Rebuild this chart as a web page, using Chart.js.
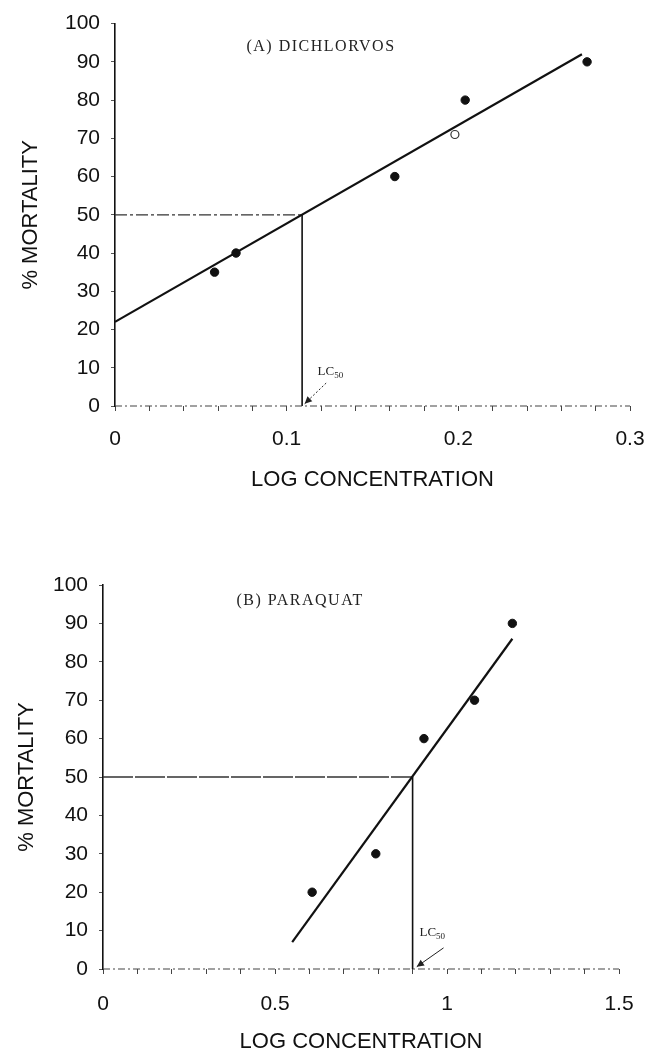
<!DOCTYPE html>
<html>
<head>
<meta charset="utf-8">
<script src="https://cdn.jsdelivr.net/npm/chart.js@4.4.1/dist/chart.umd.min.js"></script>
<style>
  html, body { margin: 0; background: #fff; overflow: hidden; }
  .panel { position: absolute; left: 0; width: 645px; }
  .panel canvas { display: block; }
  #boxA { top: 0; height: 520px; }
  #boxB { top: 520px; height: 532px; }
</style>
</head>
<body>
<div class="panel" id="boxA"><canvas id="chartA"></canvas></div>
<div class="panel" id="boxB"><canvas id="chartB"></canvas></div>
<script>
// shared y axis
var yTicks = [0, 10, 20, 30, 40, 50, 60, 70, 80, 90, 100];

// (A) dichlorvos
var xTicksA = [0, 0.1, 0.2, 0.3];
var doseA = [0.058, 0.0705, 0.163, 0.204, 0.275];
var mortA = [35, 40, 60, 80, 90];
var openDoseA = [0.198];
var openMortA = [71];
var fitXA = [0, 0.272];
var fitYA = [22, 92];
var lc50A = 0.109;

// (B) paraquat
var xTicksB = [0, 0.5, 1, 1.5];
var doseB = [0.608, 0.793, 0.933, 1.08, 1.19];
var mortB = [20, 30, 60, 70, 90];
var fitXB = [0.55, 1.19];
var fitYB = [7, 86];
var lc50B = 0.90;

function pontos(xs, ys) {
  return xs.map(function(v, i) { return { x: v, y: ys[i] }; });
}

function minorTicks(labels, passo) {
  var lista = [];
  var fim = labels[labels.length - 1];
  for (var v = labels[0]; v <= fim + 1e-9; v += passo) lista.push(Math.round(v * 1000) / 1000);
  return lista;
}

var annot = {
  id: 'annot',
  afterDatasetsDraw: function(chart, args, opts) {
    var ctx = chart.ctx, x = chart.scales.x, y = chart.scales.y;
    ctx.save();
    ctx.fillStyle = '#222';
    ctx.strokeStyle = '#222';

    // panel title
    ctx.font = '16px "Liberation Serif"';
    ctx.letterSpacing = '1.5px';
    ctx.textAlign = 'center';
    ctx.textBaseline = 'middle';
    ctx.fillText(opts.title, x.getPixelForValue(opts.titleAt[0]), y.getPixelForValue(opts.titleAt[1]));
    ctx.letterSpacing = '0px';

    // LC50 label
    var lx = x.getPixelForValue(opts.lcAt[0]);
    var ly = y.getPixelForValue(opts.lcAt[1]);
    ctx.textAlign = 'left';
    ctx.font = '13px "Liberation Serif"';
    ctx.fillText('LC', lx, ly);
    var w = ctx.measureText('LC').width;
    ctx.font = '9px "Liberation Serif"';
    ctx.fillText('50', lx + w, ly + 4);

    // arrow to LC50
    var ax = x.getPixelForValue(opts.arrowFrom[0]), ay = y.getPixelForValue(opts.arrowFrom[1]);
    var bx = x.getPixelForValue(opts.arrowTo[0]), by = y.getPixelForValue(opts.arrowTo[1]);
    ctx.lineWidth = 1;
    ctx.setLineDash(opts.dotted ? [2, 2] : []);
    ctx.beginPath();
    ctx.moveTo(ax, ay);
    ctx.lineTo(bx, by);
    ctx.stroke();
    ctx.setLineDash([]);
    var ang = Math.atan2(by - ay, bx - ax);
    ctx.beginPath();
    ctx.moveTo(bx, by);
    ctx.lineTo(bx - 8 * Math.cos(ang - 0.45), by - 8 * Math.sin(ang - 0.45));
    ctx.lineTo(bx - 8 * Math.cos(ang + 0.45), by - 8 * Math.sin(ang + 0.45));
    ctx.closePath();
    ctx.fill();
    ctx.restore();
  }
};

function montaGrafico(id, cfg) {
  var ctxChart = document.getElementById(id).getContext('2d');
  var xMin = cfg.xTicks[0], xMax = cfg.xTicks[cfg.xTicks.length - 1];
  var minors = minorTicks(cfg.xTicks, cfg.passo);

  return new Chart(ctxChart, {
    type: 'scatter',
    plugins: [annot],
    data: {
      datasets: [{
        data: [{ x: xMin, y: 0 }, { x: xMax, y: 0 }],
        showLine: true, pointRadius: 0, borderColor: '#444', borderWidth: 1.2,
        borderDash: [7, 3, 2, 3]
      }, {
        data: pontos(cfg.fitX, cfg.fitY),
        showLine: true, pointRadius: 0, borderColor: '#111', borderWidth: 2.2
      }, {
        data: [{ x: xMin, y: 50 }, { x: cfg.lc50, y: 50 }],
        showLine: true, pointRadius: 0, borderColor: '#333', borderWidth: 1.3,
        borderDash: cfg.hDash
      }, {
        data: [{ x: cfg.lc50, y: 50 }, { x: cfg.lc50, y: 0 }],
        showLine: true, pointRadius: 0, borderColor: '#111', borderWidth: 1.6
      }, {
        data: pontos(cfg.dose, cfg.mort),
        pointRadius: 4.2, pointBackgroundColor: '#111', pointBorderColor: '#111'
      }, {
        data: pontos(cfg.openDose, cfg.openMort),
        pointRadius: 4, pointBackgroundColor: '#fff', pointBorderColor: '#333', pointBorderWidth: 1.2
      }]
    },
    options: {
      responsive: true,
      maintainAspectRatio: false,
      animation: false,
      clip: false,
      layout: { padding: cfg.padding },
      plugins: {
        legend: { display: false },
        tooltip: { enabled: false },
        annot: cfg.annot
      },
      scales: {
        x: {
          type: 'linear', min: xMin, max: xMax,
          afterBuildTicks: function(s) { s.ticks = minors.map(function(v) { return { value: v }; }); },
          afterFit: function(s) {
            s.height = cfg.xHeight;
            s.paddingLeft = 0;
            s.paddingRight = cfg.padRight;
          },
          border: { display: false },
          grid: { drawOnChartArea: false, drawTicks: true, tickLength: 5, color: '#444' },
          ticks: {
            autoSkip: false, maxRotation: 0, padding: cfg.xPad, color: '#111',
            font: { family: '"Liberation Sans", Arial', size: 21 },
            callback: function(v) {
              var r = Math.round(v * 1000) / 1000;
              return cfg.xTicks.indexOf(r) >= 0 ? String(r) : '';
            }
          },
          title: {
            display: true, text: 'LOG CONCENTRATION', color: '#111',
            font: { family: '"Liberation Sans", Arial', size: 22 },
            padding: { top: 0, bottom: cfg.xTitlePad }
          }
        },
        y: {
          min: 0, max: 100,
          afterBuildTicks: function(s) { s.ticks = yTicks.map(function(v) { return { value: v }; }); },
          afterFit: function(s) { s.width = cfg.yWidth; },
          border: { display: true, color: '#111', width: 1.6 },
          grid: { drawOnChartArea: false, drawTicks: true, tickLength: 4, color: '#555' },
          ticks: {
            padding: 11, color: '#111',
            font: { family: '"Liberation Sans", Arial', size: 21 }
          },
          title: {
            display: true, text: '% MORTALITY', color: '#111',
            font: { family: '"Liberation Sans", Arial', size: 22 },
            padding: { top: cfg.yTitlePad, bottom: 0 }
          }
        }
      }
    }
  });
}

montaGrafico('chartA', {
  xTicks: xTicksA, passo: 0.02,
  dose: doseA, mort: mortA, openDose: openDoseA, openMort: openMortA,
  fitX: fitXA, fitY: fitYA, lc50: lc50A,
  hDash: [12, 3, 3, 3],
  padding: { top: 23, right: 0, bottom: 0, left: 0 },
  padRight: 15,
  xHeight: 114, yWidth: 115, xPad: 16, xTitlePad: 27, yTitlePad: 18,
  annot: {
    title: '(A) DICHLORVOS', titleAt: [0.12, 94],
    lcAt: [0.118, 9], arrowFrom: [0.123, 6], arrowTo: [0.1105, 0.6], dotted: true
  }
});

montaGrafico('chartB', {
  xTicks: xTicksB, passo: 0.1,
  dose: doseB, mort: mortB, openDose: [], openMort: [],
  fitX: fitXB, fitY: fitYB, lc50: lc50B,
  hDash: [30, 2],
  padding: { top: 65, right: 0, bottom: 0, left: 0 },
  padRight: 26,
  xHeight: 83, yWidth: 103, xPad: 18, xTitlePad: -3, yTitlePad: 14,
  annot: {
    title: '(B) PARAQUAT', titleAt: [0.573, 96],
    lcAt: [0.92, 9.4], arrowFrom: [0.99, 5.5], arrowTo: [0.912, 0.6], dotted: false
  }
});
</script>
</body>
</html>
